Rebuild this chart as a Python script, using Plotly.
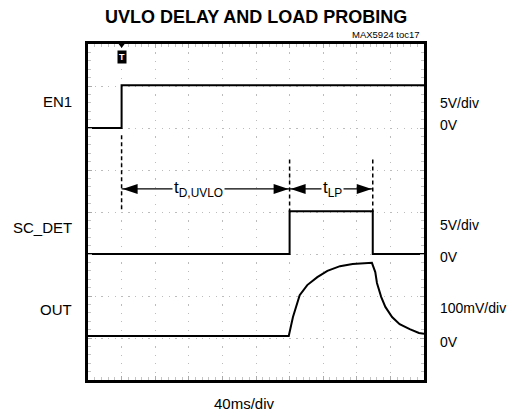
import plotly.graph_objects as go

# ---- data (time in ms, levels in channel units) ----
en1_t = [0, 40, 400]
en1_v = [0, 5.1, 5.1]            # V

sc_t = [0, 240, 339, 400]
sc_v = [0, 5.1, 0, 0]            # V

out_t = [0, 239, 244, 249, 252, 261, 273, 285, 300, 315, 336, 338,
         342, 344, 349, 354, 362, 371, 383, 394, 400]
out_v = [0, 0, 45, 78, 97, 121, 140, 155, 166, 171, 174, 174,
         152, 126, 93, 69, 45, 28, 16, 7, 5]   # mV

channel_names = ["EN1", "SC_DET", "OUT"]
channel_offsets = [6.0, 3.0, 1.05]     # screen divisions of 0V
channel_scales = [5.0, 5.0, 100.0]     # units per division
channel_scale_labels = ["5V/div", "5V/div", "100mV/div"]

t_delay_start, t_delay_end, t_lp_end = 40, 240, 339

FONT = "Liberation Sans, Arial, sans-serif"


def to_div(vals, off, sc):
    return [off + v / sc for v in vals]


fig = go.Figure()
series = [(en1_t, en1_v, "hv"), (sc_t, sc_v, "hv"), (out_t, out_v, "linear")]
for (t, v, shp), off, sc, nm in zip(series, channel_offsets, channel_scales, channel_names):
    fig.add_trace(go.Scatter(x=t, y=to_div(v, off, sc), mode="lines", name=nm,
                             line=dict(color="black", width=2, shape=shp),
                             hoverinfo="skip", showlegend=False))

ann = []
# title & ids
ann.append(dict(text="<b>UVLO DELAY AND LOAD PROBING</b>", xref="paper", yref="paper",
                x=0.5, y=1, xanchor="center", yanchor="middle", yshift=27,
                showarrow=False, font=dict(size=18, color="black", family=FONT)))
ann.append(dict(text="MAX5924 toc17", xref="paper", yref="paper", x=1, y=1,
                xanchor="right", yanchor="middle", xshift=-2, yshift=10,
                showarrow=False, font=dict(size=9.5, color="black", family=FONT)))
ann.append(dict(text="40ms/div", xref="x", yref="paper", x=186, y=0,
                xanchor="center", yanchor="middle", yshift=-23,
                showarrow=False, font=dict(size=15, color="black", family=FONT)))

# channel labels
for nm, off in zip(channel_names, channel_offsets):
    ann.append(dict(text=nm, xref="paper", yref="y", x=0, y=off + 0.64,
                    xanchor="right", yanchor="middle", xshift=-14,
                    showarrow=False, font=dict(size=15, color="black", family=FONT)))
right_rows = [(channel_scale_labels[0], 6.6), ("0V", 6.07),
              (channel_scale_labels[1], 3.69), ("0V", 2.93),
              (channel_scale_labels[2], 1.71), ("0V", 0.9)]
for txt, yy in right_rows:
    ann.append(dict(text=txt, xref="paper", yref="y", x=1, y=yy,
                    xanchor="left", yanchor="middle", xshift=14,
                    showarrow=False, font=dict(size=14, color="black", family=FONT)))

# timing labels
arrow_y = 4.55
ann.append(dict(text="t<sub>D,UVLO</sub>", x=131, y=arrow_y, xref="x", yref="y",
                showarrow=False, bgcolor="white", borderpad=1,
                font=dict(size=17, color="black", family=FONT)))
ann.append(dict(text="t<sub>LP</sub>", x=291, y=arrow_y, xref="x", yref="y",
                showarrow=False, bgcolor="white", borderpad=1,
                font=dict(size=17, color="black", family=FONT)))
# trigger marker
ann.append(dict(text="<b>T</b>", x=t_delay_start, y=1, xref="x", yref="paper",
                yanchor="top", yshift=-6, showarrow=False, bgcolor="black",
                borderpad=1, font=dict(size=9, color="white", family=FONT)))

shapes = []
# dashed marker lines
for tx, y0 in [(t_delay_start, 5.83), (t_delay_end, 5.25), (t_lp_end, 5.25)]:
    shapes.append(dict(type="line", xref="x", yref="y", x0=tx, x1=tx, y0=y0, y1=4.0,
                       line=dict(color="black", width=1.5, dash="4px,3px")))
# arrow shafts
for a, b in [(t_delay_start, t_delay_end), (t_delay_end, t_lp_end)]:
    shapes.append(dict(type="line", xref="x", yref="y", x0=a, x1=b, y0=arrow_y, y1=arrow_y,
                       line=dict(color="black", width=1.2)))
    # heads (pixel-sized triangles anchored at data points)
    shapes.append(dict(type="path", xref="x", yref="y", xsizemode="pixel", ysizemode="pixel",
                       xanchor=a, yanchor=arrow_y, path="M1,0 L16,5 L16,-5 Z",
                       fillcolor="black", line=dict(width=0)))
    shapes.append(dict(type="path", xref="x", yref="y", xsizemode="pixel", ysizemode="pixel",
                       xanchor=b, yanchor=arrow_y, path="M-1,0 L-16,5 L-16,-5 Z",
                       fillcolor="black", line=dict(width=0)))
# trigger mark on top border
shapes.append(dict(type="path", xref="x", yref="paper", xsizemode="pixel", ysizemode="pixel",
                   xanchor=t_delay_start, yanchor=1, path="M-3,0 L3,0 L0,-4 Z",
                   fillcolor="black", line=dict(width=0)))

# page body adds an 8px margin; size figure to the visible window area
fig.update_layout(
    width=510, height=407,
    margin=dict(l=80, r=94, t=36, b=35),
    paper_bgcolor="white", plot_bgcolor="white",
    annotations=ann, shapes=shapes,
    font=dict(family=FONT, color="black"),
)
fig.update_xaxes(range=[0, 400], dtick=40, showgrid=True, gridcolor="#bcbcbc",
                 gridwidth=1.2, griddash="1.2px,7.2px", zeroline=False,
                 showline=True, linecolor="black", linewidth=2.5, mirror="ticks",
                 ticks="inside", ticklen=4, tickcolor="#aaa", showticklabels=False,
                 minor=dict(dtick=8, ticks="inside", ticklen=3, tickcolor="#c4c4c4"),
                 fixedrange=True)
fig.update_yaxes(range=[0, 8], dtick=1, showgrid=True, gridcolor="#bcbcbc",
                 gridwidth=1.2, griddash="1.2px,5.52px", zeroline=False,
                 showline=True, linecolor="black", linewidth=2.5, mirror="ticks",
                 ticks="inside", ticklen=4, tickcolor="#aaa", showticklabels=False,
                 minor=dict(dtick=0.2, ticks="inside", ticklen=3, tickcolor="#c4c4c4"),
                 fixedrange=True)

fig.write_html("out.html")
